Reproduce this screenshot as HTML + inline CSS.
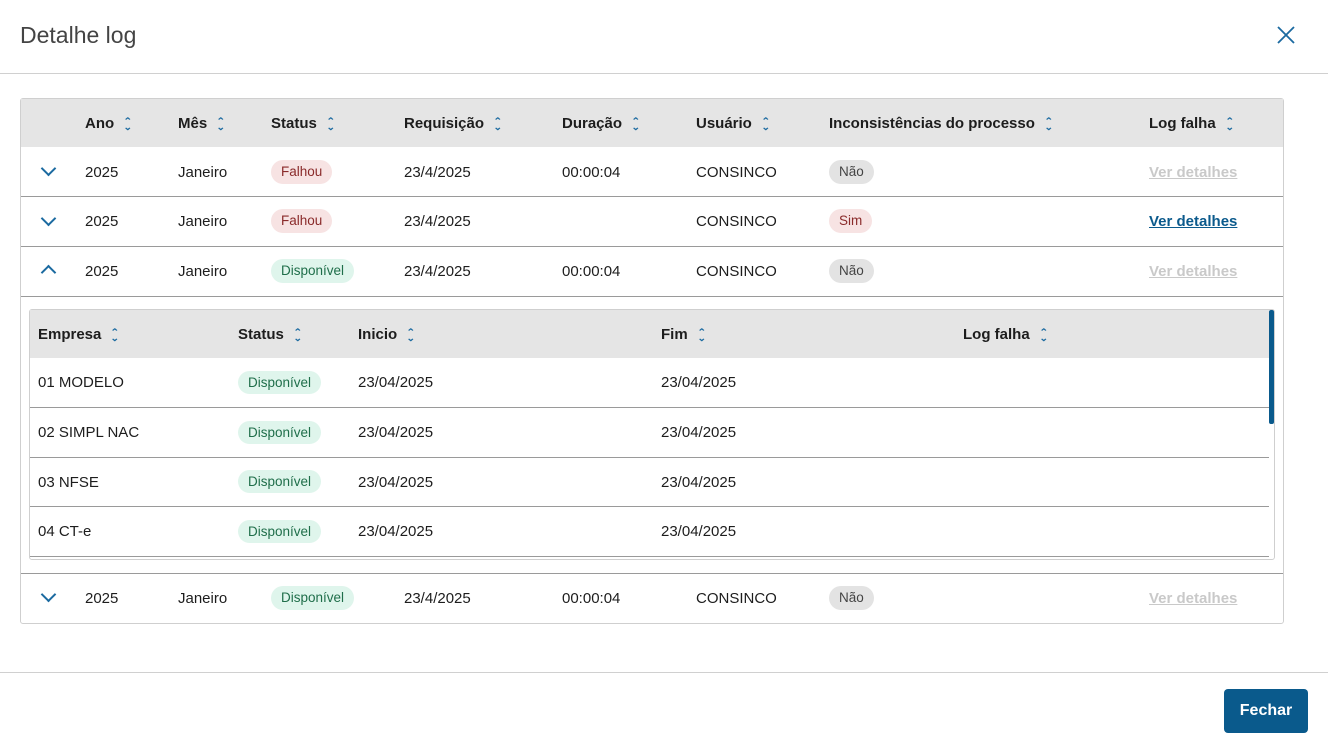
<!DOCTYPE html>
<html><head><meta charset="utf-8"><style>
*{margin:0;padding:0;box-sizing:border-box}
body{width:1328px;height:745px;background:#fff;font-family:"Liberation Sans",sans-serif;color:#1d1d1d;position:relative;overflow:hidden;font-size:15px}
.a{position:absolute;white-space:nowrap}
.t{line-height:20px}
.h{font-weight:bold}
.s{color:#1b6aa0;font-size:9px;line-height:6px;display:inline-block;margin-left:10px;vertical-align:middle;transform:scaleX(1.2)}
.line{position:absolute;height:1px;background:#9a9a9a}
.pill{position:absolute;height:24px;line-height:24px;border-radius:12px;padding:0 10px;font-size:13.5px}
.red{background:#f7e3e3;color:#8a2a2a}
.grn{background:#dff5ec;color:#1f6e4a}
.gry{background:#e3e3e3;color:#444}
.lk{text-decoration:underline;font-weight:bold;color:#c9c9c9}
.chev{position:absolute;width:11px;height:11px;border-right:2px solid #1b6aa0;border-bottom:2px solid #1b6aa0}
</style></head><body>
<div class="a" style="left:20px;top:22px;font-size:23px;color:#444">Detalhe log</div>
<svg class="a" style="left:1277px;top:26px" width="18" height="18"><path d="M1 1L17 17M17 1L1 17" stroke="#1b6aa0" stroke-width="1.8"/></svg>
<div class="line" style="left:0;top:73px;width:1328px;background:#d0d0d0"></div>

<div class="a" style="left:20px;top:98px;width:1264px;height:526px;border:1px solid #cfcfcf;border-radius:3px"></div>
<div class="a" style="left:21px;top:99px;width:1262px;height:48px;background:#e5e5e5"></div>

<div class="a t h" style="left:85px;top:114px">Ano<span class="s">⌃<br>⌄</span></div>
<div class="a t h" style="left:178px;top:114px">Mês<span class="s">⌃<br>⌄</span></div>
<div class="a t h" style="left:271px;top:114px">Status<span class="s">⌃<br>⌄</span></div>
<div class="a t h" style="left:404px;top:114px">Requisição<span class="s">⌃<br>⌄</span></div>
<div class="a t h" style="left:562px;top:114px">Duração<span class="s">⌃<br>⌄</span></div>
<div class="a t h" style="left:696px;top:114px">Usuário<span class="s">⌃<br>⌄</span></div>
<div class="a t h" style="left:829px;top:114px">Inconsistências do processo<span class="s">⌃<br>⌄</span></div>
<div class="a t h" style="left:1149px;top:114px">Log falha<span class="s">⌃<br>⌄</span></div>

<!-- row 1 -->
<div class="chev" style="left:43px;top:163px;transform:rotate(45deg)"></div>
<div class="a t" style="left:85px;top:163px">2025</div>
<div class="a t" style="left:178px;top:163px">Janeiro</div>
<div class="pill red" style="left:271px;top:160px">Falhou</div>
<div class="a t" style="left:404px;top:163px">23/4/2025</div>
<div class="a t" style="left:562px;top:163px">00:00:04</div>
<div class="a t" style="left:696px;top:163px">CONSINCO</div>
<div class="pill gry" style="left:829px;top:160px">Não</div>
<div class="a t lk" style="left:1149px;top:163px">Ver detalhes</div>
<div class="line" style="left:21px;top:196px;width:1262px"></div>
<!-- row 2 -->
<div class="chev" style="left:43px;top:213px;transform:rotate(45deg)"></div>
<div class="a t" style="left:85px;top:212px">2025</div>
<div class="a t" style="left:178px;top:212px">Janeiro</div>
<div class="pill red" style="left:271px;top:209px">Falhou</div>
<div class="a t" style="left:404px;top:212px">23/4/2025</div>
<div class="a t" style="left:696px;top:212px">CONSINCO</div>
<div class="pill red" style="left:829px;top:209px">Sim</div>
<div class="a t lk" style="left:1149px;top:212px;color:#0b5a8c">Ver detalhes</div>
<div class="line" style="left:21px;top:246px;width:1262px"></div>
<!-- row 3 -->
<div class="chev" style="left:43px;top:267px;transform:rotate(-135deg)"></div>
<div class="a t" style="left:85px;top:262px">2025</div>
<div class="a t" style="left:178px;top:262px">Janeiro</div>
<div class="pill grn" style="left:271px;top:259px">Disponível</div>
<div class="a t" style="left:404px;top:262px">23/4/2025</div>
<div class="a t" style="left:562px;top:262px">00:00:04</div>
<div class="a t" style="left:696px;top:262px">CONSINCO</div>
<div class="pill gry" style="left:829px;top:259px">Não</div>
<div class="a t lk" style="left:1149px;top:262px">Ver detalhes</div>
<div class="line" style="left:21px;top:296px;width:1262px"></div>

<!-- inner -->
<div class="a" style="left:29px;top:309px;width:1246px;height:251px;border:1px solid #cfcfcf;border-radius:3px"></div>
<div class="a" style="left:30px;top:310px;width:1239px;height:48px;background:#e5e5e5"></div>
<div class="a" style="left:1269px;top:310px;width:5px;height:114px;background:#0a5a8c;border-radius:2px"></div>
<div class="a t h" style="left:38px;top:325px">Empresa<span class="s">⌃<br>⌄</span></div>
<div class="a t h" style="left:238px;top:325px">Status<span class="s">⌃<br>⌄</span></div>
<div class="a t h" style="left:358px;top:325px">Inicio<span class="s">⌃<br>⌄</span></div>
<div class="a t h" style="left:661px;top:325px">Fim<span class="s">⌃<br>⌄</span></div>
<div class="a t h" style="left:963px;top:325px">Log falha<span class="s">⌃<br>⌄</span></div>

<div class="a t" style="left:38px;top:373px">01 MODELO</div>
<div class="pill grn" style="left:238px;top:371px;height:23px;line-height:23px">Disponível</div>
<div class="a t" style="left:358px;top:373px">23/04/2025</div>
<div class="a t" style="left:661px;top:373px">23/04/2025</div>
<div class="line" style="left:30px;top:407px;width:1239px"></div>

<div class="a t" style="left:38px;top:423px">02 SIMPL NAC</div>
<div class="pill grn" style="left:238px;top:421px;height:23px;line-height:23px">Disponível</div>
<div class="a t" style="left:358px;top:423px">23/04/2025</div>
<div class="a t" style="left:661px;top:423px">23/04/2025</div>
<div class="line" style="left:30px;top:457px;width:1239px"></div>

<div class="a t" style="left:38px;top:473px">03 NFSE</div>
<div class="pill grn" style="left:238px;top:470px;height:23px;line-height:23px">Disponível</div>
<div class="a t" style="left:358px;top:473px">23/04/2025</div>
<div class="a t" style="left:661px;top:473px">23/04/2025</div>
<div class="line" style="left:30px;top:506px;width:1239px"></div>

<div class="a t" style="left:38px;top:522px">04 CT-e</div>
<div class="pill grn" style="left:238px;top:520px;height:23px;line-height:23px">Disponível</div>
<div class="a t" style="left:358px;top:522px">23/04/2025</div>
<div class="a t" style="left:661px;top:522px">23/04/2025</div>
<div class="line" style="left:30px;top:556px;width:1239px"></div>

<div class="line" style="left:21px;top:573px;width:1262px"></div>
<!-- row 4 -->
<div class="chev" style="left:43px;top:589px;transform:rotate(45deg)"></div>
<div class="a t" style="left:85px;top:589px">2025</div>
<div class="a t" style="left:178px;top:589px">Janeiro</div>
<div class="pill grn" style="left:271px;top:586px">Disponível</div>
<div class="a t" style="left:404px;top:589px">23/4/2025</div>
<div class="a t" style="left:562px;top:589px">00:00:04</div>
<div class="a t" style="left:696px;top:589px">CONSINCO</div>
<div class="pill gry" style="left:829px;top:586px">Não</div>
<div class="a t lk" style="left:1149px;top:589px">Ver detalhes</div>

<div class="line" style="left:0;top:672px;width:1328px;background:#d0d0d0"></div>
<div class="a" style="left:1224px;top:689px;width:84px;height:44px;background:#0a5a8c;border-radius:4px;color:#fff;font-weight:bold;font-size:16px;line-height:44px;text-align:center">Fechar</div>
</body></html>
